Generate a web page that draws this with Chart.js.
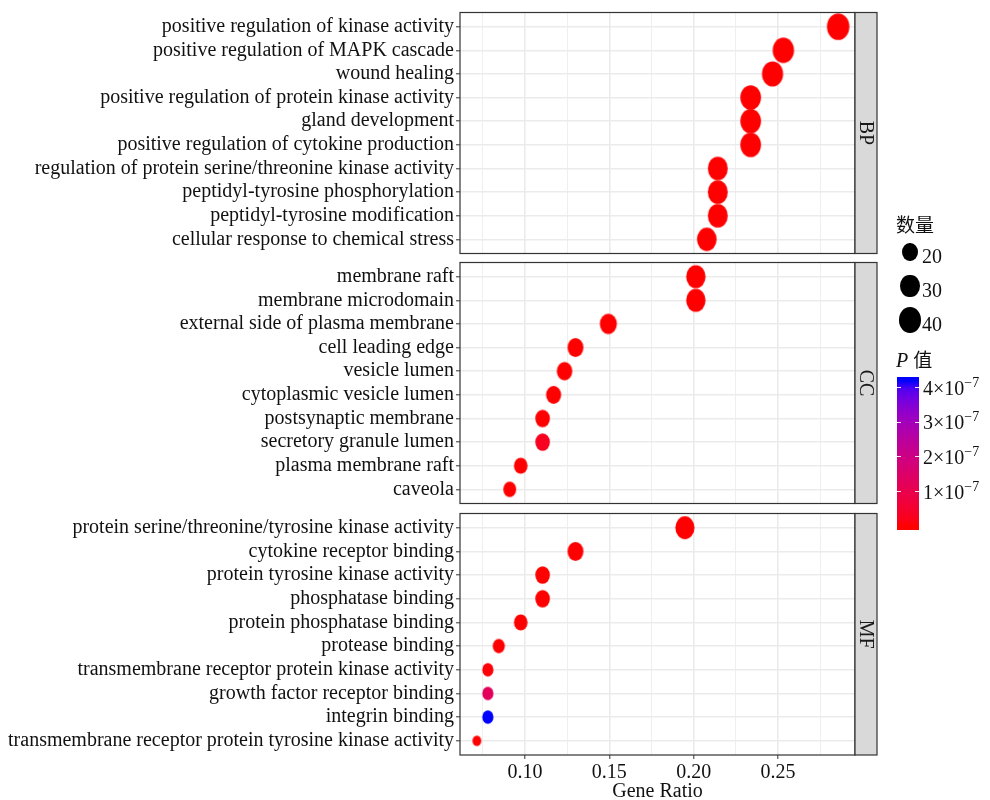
<!DOCTYPE html>
<html>
<head>
<meta charset="utf-8">
<script src="https://cdn.jsdelivr.net/npm/chart.js@4.4.0/dist/chart.umd.min.js"></script>
<style>
  body { margin: 0; background: #fff; }
  #wrap { position: relative; width: 990px; height: 800px; overflow: hidden; font-family: "Liberation Serif", serif; color: #111; }
  .panel { position: absolute; left: 0; }
  .panel canvas { display: block; }
  .lg { position: absolute; white-space: nowrap; font-size: 20px; line-height: 20px; }
  .key { position: absolute; border-radius: 50%; background: #000; }
  .tick { position: absolute; height: 1px; width: 4px; background: rgba(255,255,255,0.9); }
  sup { font-size: 14px; vertical-align: 0; position: relative; top: -8px; }
</style>
</head>
<body>
<div id="wrap">
  <div class="panel" id="pBP"><canvas id="cBP" width="990" height="246"></canvas></div>
  <div class="panel" id="pCC"><canvas id="cCC" width="990" height="246"></canvas></div>
  <div class="panel" id="pMF"><canvas id="cMF" width="990" height="291"></canvas></div>
  <div id="legend"></div>
</div>
<script>
// ---- data ----
const bpTerms = ["positive regulation of kinase activity", "positive regulation of MAPK cascade", "wound healing",
  "positive regulation of protein kinase activity", "gland development", "positive regulation of cytokine production",
  "regulation of protein serine/threonine kinase activity", "peptidyl-tyrosine phosphorylation",
  "peptidyl-tyrosine modification", "cellular response to chemical stress"];
const bpRatio = [0.2857, 0.2532, 0.2468, 0.2338, 0.2338, 0.2338, 0.2143, 0.2143, 0.2143, 0.2078];
const bpCount = [44, 39, 38, 36, 36, 36, 33, 33, 33, 32];
const bpP = [1e-20, 1e-18, 1e-16, 1e-17, 1e-15, 1e-16, 1e-15, 1e-16, 1e-16, 1e-13];

const ccTerms = ["membrane raft", "membrane microdomain", "external side of plasma membrane", "cell leading edge",
  "vesicle lumen", "cytoplasmic vesicle lumen", "postsynaptic membrane", "secretory granule lumen",
  "plasma membrane raft", "caveola"];
const ccRatio = [0.2013, 0.2013, 0.1494, 0.1299, 0.1234, 0.1169, 0.1104, 0.1104, 0.0974, 0.0909];
const ccCount = [31, 31, 23, 20, 19, 18, 17, 17, 15, 14];
const ccP = [1e-14, 1e-14, 1e-12, 1e-11, 1e-10, 1e-10, 1e-9, 3e-8, 1e-9, 1e-9];

const mfTerms = ["protein serine/threonine/tyrosine kinase activity", "cytokine receptor binding",
  "protein tyrosine kinase activity", "phosphatase binding", "protein phosphatase binding", "protease binding",
  "transmembrane receptor protein kinase activity", "growth factor receptor binding", "integrin binding",
  "transmembrane receptor protein tyrosine kinase activity"];
const mfRatio = [0.1948, 0.1299, 0.1104, 0.1104, 0.0974, 0.0844, 0.0779, 0.0779, 0.0779, 0.0714];
const mfCount = [30, 20, 17, 17, 15, 13, 12, 12, 12, 11];
const mfP = [1e-12, 1e-11, 1e-11, 1e-10, 1e-9, 1e-9, 5e-9, 1.25e-7, 4.2e-7, 1e-9];

const xMajorTicks = [0.10, 0.15, 0.20, 0.25];
const xMinorTicks = [0.075, 0.125, 0.175, 0.225, 0.275];
const sizeBreaks = [20, 30, 40];
const pBreaks = [1e-7, 2e-7, 3e-7, 4e-7];

// ---- helpers ----
const FONT = { family: "Liberation Serif", size: 20 };
const allCounts = bpCount.concat(ccCount, mfCount);
const allP = bpP.concat(ccP, mfP);
const cMin = Math.min(...allCounts), cMax = Math.max(...allCounts);
const pMin = Math.min(...allP), pMax = Math.max(...allP);

// ggplot-like area scale
function diam(c) {
  return 10.5 + 16.2 * Math.sqrt((c - cMin) / (cMax - cMin));
}

function lin(c) { c /= 255; return c <= 0.04045 ? c / 12.92 : Math.pow((c + 0.055) / 1.055, 2.4); }
function gam(c) { c = c <= 0.0031308 ? 12.92 * c : 1.055 * Math.pow(c, 1 / 2.4) - 0.055; return Math.round(Math.max(0, Math.min(1, c)) * 255); }
function toLab(rgb) {
  const [r, g, b] = rgb.map(lin);
  const X = (0.4124 * r + 0.3576 * g + 0.1805 * b) / 0.95047;
  const Y = 0.2126 * r + 0.7152 * g + 0.0722 * b;
  const Z = (0.0193 * r + 0.1192 * g + 0.9505 * b) / 1.08883;
  const f = t => t > 0.008856 ? Math.cbrt(t) : 7.787 * t + 16 / 116;
  return [116 * f(Y) - 16, 500 * (f(X) - f(Y)), 200 * (f(Y) - f(Z))];
}
function fromLab([L, a, b]) {
  const fy = (L + 16) / 116, fx = fy + a / 500, fz = fy - b / 200;
  const inv = t => t ** 3 > 0.008856 ? t ** 3 : (t - 16 / 116) / 7.787;
  const X = inv(fx) * 0.95047, Y = inv(fy), Z = inv(fz) * 1.08883;
  const r = 3.2406 * X - 1.5372 * Y - 0.4986 * Z;
  const g = -0.9689 * X + 1.8758 * Y + 0.0415 * Z;
  const bb = 0.0557 * X - 0.2040 * Y + 1.0570 * Z;
  return `rgb(${gam(r)},${gam(g)},${gam(bb)})`;
}
const labLow = toLab([255, 0, 0]), labHigh = toLab([0, 0, 255]);
function tColor(t) {
  t = Math.max(0, Math.min(1, t));
  return fromLab(labLow.map((v, i) => v + (labHigh[i] - v) * t));
}
function pColor(p) { return tColor((p - pMin) / (pMax - pMin)); }

function ellipseImage(c, color) {
  const h = diam(c), w = h * 0.84;
  const cv = document.createElement("canvas");
  cv.width = Math.ceil(w) + 2;
  cv.height = Math.ceil(h) + 2;
  const g = cv.getContext("2d");
  g.fillStyle = color;
  g.beginPath();
  g.ellipse(cv.width / 2, cv.height / 2, w / 2, h / 2, 0, 0, Math.PI * 2);
  g.fill();
  return cv;
}

const frame = name => ({
  id: "frame",
  afterDraw(chart) {
    const { ctx, chartArea: a } = chart;
    ctx.save();
    ctx.strokeStyle = "#333";
    ctx.lineWidth = 1.2;
    ctx.strokeRect(a.left, a.top, a.right - a.left, a.bottom - a.top);
    ctx.fillStyle = "#D9D9D9";
    ctx.fillRect(a.right, a.top, 22, a.bottom - a.top);
    ctx.strokeRect(a.right, a.top, 22, a.bottom - a.top);
    ctx.translate(a.right + 11, (a.top + a.bottom) / 2);
    ctx.rotate(Math.PI / 2);
    ctx.fillStyle = "#1A1A1A";
    ctx.font = '20px "Liberation Serif"';
    ctx.textAlign = "center";
    ctx.textBaseline = "middle";
    ctx.fillText(name, 0, 1);
    ctx.restore();
  }
});

function makePanel(id, name, terms, ratio, count, pval, bottom) {
  const isMajor = v => xMajorTicks.indexOf(v) >= 0;
  new Chart(document.getElementById(id), {
    type: "scatter",
    data: {
      datasets: [{
        data: ratio.map((r, i) => ({ x: r, y: i })),
        pointStyle: count.map((c, i) => ellipseImage(c, pColor(pval[i]))),
        pointRadius: 5,
        pointHoverRadius: 5
      }]
    },
    plugins: [frame(name)],
    options: {
      responsive: false,
      animation: false,
      events: [],
      layout: { autoPadding: false, padding: { left: 0, right: 135, top: 2, bottom: bottom ? 0 : 2 } },
      plugins: { legend: { display: false }, tooltip: { enabled: false } },
      scales: {
        x: {
          type: "linear", min: 0.0614, max: 0.2957, bounds: "data",
          afterBuildTicks: s => { s.ticks = xMinorTicks.concat(xMajorTicks).sort((a, b) => a - b).map(v => ({ value: v })); },
          afterFit: s => { s.height = bottom ? 47 : 0; },
          ticks: {
            display: bottom, autoSkip: false, maxRotation: 0, padding: 2, color: "#111", font: FONT,
            callback: v => isMajor(v) ? v.toFixed(2) : ""
          },
          grid: {
            color: "#EBEBEB",
            lineWidth: c => isMajor(c.tick.value) ? 1.6 : 0.8,
            drawTicks: bottom, tickLength: 4,
            tickColor: c => isMajor(c.tick.value) ? "#333" : "rgba(0,0,0,0)",
            tickWidth: 1
          },
          border: { display: false },
          title: { display: bottom, text: "Gene Ratio", color: "#111", font: { family: "Liberation Serif", size: 20, lineHeight: 1 }, padding: { top: 0, bottom: 0 } }
        },
        y: {
          type: "linear", reverse: true, min: -0.6, max: terms.length - 0.4, bounds: "data",
          afterBuildTicks: s => { s.ticks = terms.map((t, i) => ({ value: i })); },
          afterFit: s => { s.width = 460; },
          // tiny lineHeight keeps the scale from reserving label padding above/below the panel
          ticks: { autoSkip: false, padding: 2, color: "#111", font: { family: "Liberation Serif", size: 20, lineHeight: 0.05 }, callback: v => terms[v] },
          grid: { color: "#EBEBEB", lineWidth: 1.6, tickLength: 4, tickColor: "#333", tickWidth: 1 },
          border: { display: false }
        }
      }
    }
  });
}

const panelTops = [12, 262, 513];
document.getElementById("pBP").style.top = (panelTops[0] - 2) + "px";
document.getElementById("pCC").style.top = (panelTops[1] - 2) + "px";
document.getElementById("pMF").style.top = (panelTops[2] - 2) + "px";

makePanel("cBP", "BP", bpTerms, bpRatio, bpCount, bpP, false);
makePanel("cCC", "CC", ccTerms, ccRatio, ccCount, ccP, false);
makePanel("cMF", "MF", mfTerms, mfRatio, mfCount, mfP, true);

// ---- legend ----
const lg = document.getElementById("legend");
function add(html, cls, style) {
  const el = document.createElement("div");
  el.className = cls;
  el.innerHTML = html;
  Object.assign(el.style, style);
  lg.appendChild(el);
  return el;
}
add("数量", "lg", { left: "896px", top: "214px", fontFamily: '"Noto Sans CJK SC", sans-serif', fontSize: "19px" });
const keyY = [252, 286, 320];
sizeBreaks.forEach((c, i) => {
  const h = diam(c), w = h * 0.84;
  add("", "key", { left: (910 - w / 2) + "px", top: (keyY[i] - h / 2) + "px", width: w + "px", height: h + "px" });
  add(String(c), "lg", { left: "922px", top: (keyY[i] + 4 - 10) + "px" });
});
add('<i>P</i> <span style="font-family:\'Noto Sans CJK SC\',sans-serif;font-size:19px">值</span>', "lg",
  { left: "896px", top: "349px" });

const barTop = 377, barH = 153, barLeft = 897, barW = 22;
const inset = barH * 0.025;
const yOfP = p => barTop + barH - inset - (p - pMin) / (pMax - pMin) * (barH - 2 * inset);
const stops = [];
for (let k = 0; k <= 20; k++) {
  const t = k / 20;
  const y = barTop + barH - inset - t * (barH - 2 * inset);
  stops.push(`${tColor(t)} ${((y - barTop) / barH * 100).toFixed(2)}%`);
}
stops.reverse();
add("", "key", { left: barLeft + "px", top: barTop + "px", width: barW + "px", height: barH + "px",
  borderRadius: "0", background: `linear-gradient(to bottom, ${stops.join(",")})` });
pBreaks.forEach(p => {
  const y = yOfP(p);
  add("", "tick", { left: barLeft + "px", top: (y - 0.5) + "px" });
  add("", "tick", { left: (barLeft + barW - 4) + "px", top: (y - 0.5) + "px" });
  const n = Math.round(p / 1e-7);
  add(`${n}×10<sup>−7</sup>`, "lg", { left: "923px", top: (y - 10) + "px" });
});
</script>
</body>
</html>
